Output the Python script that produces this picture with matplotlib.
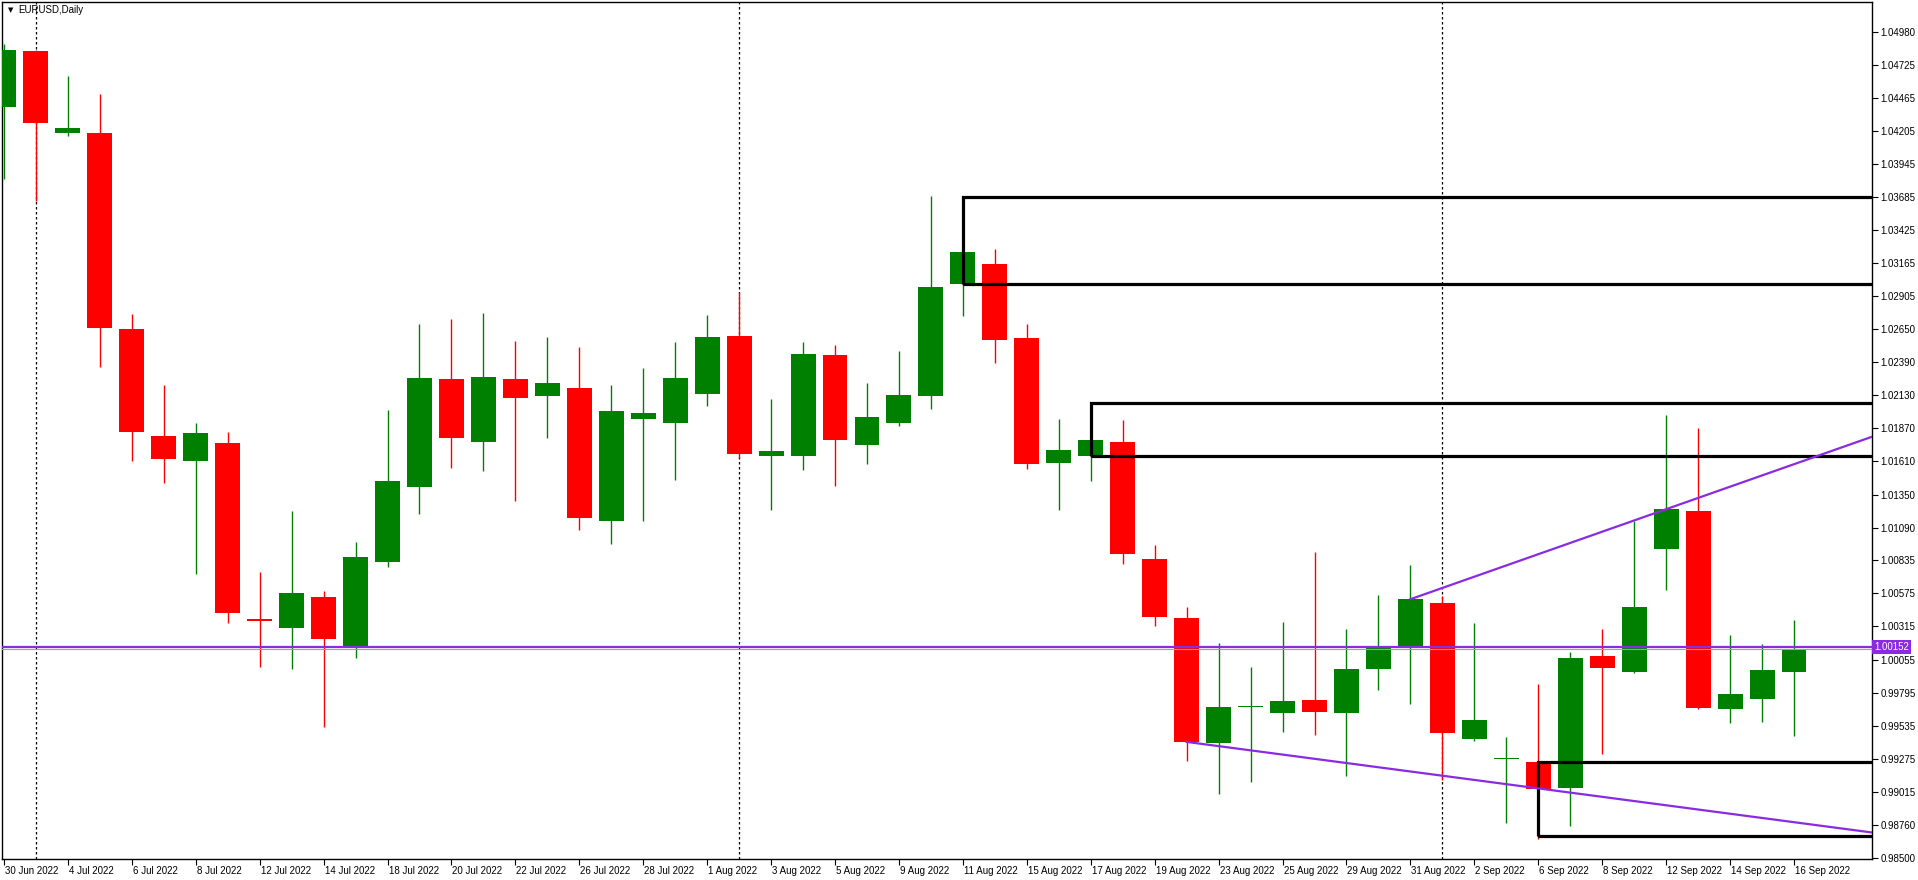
import matplotlib
matplotlib.use("Agg")
import matplotlib.pyplot as plt
from matplotlib.patches import Rectangle
import matplotlib.transforms as mtrans

plt.rcParams['font.family'] = ['Liberation Sans', 'DejaVu Sans']

opens = [1.04389,1.04830,1.04190,1.04186,1.02646,1.01813,1.01614,1.01755,1.00375,1.00300,
         1.00547,1.00158,1.00824,1.01407,1.02258,1.01760,1.02258,1.02121,1.02187,1.01146,
         1.01940,1.01909,1.02139,1.02598,1.01649,1.01649,1.02448,1.01737,1.01909,1.02121,
         1.03003,1.03162,1.02576,1.01596,1.01649,1.01764,1.00846,1.00383,0.99404,0.99682,
         0.99633,0.99739,0.99638,0.99978,1.00150,1.00498,0.99435,0.99276,0.99254,0.99051,
         1.00083,0.99960,1.00921,1.01221,0.99669,0.99744,0.99960]
closes = [1.04838,1.04269,1.04225,1.02659,1.01839,1.01627,1.01835,1.00419,1.00361,1.00577,
          1.00220,1.00860,1.01460,1.02267,1.01795,1.02276,1.02108,1.02223,1.01164,1.02007,
          1.01993,1.02267,1.02589,1.01667,1.01693,1.02457,1.01777,1.01962,1.02135,1.02977,
          1.03251,1.02562,1.01587,1.01702,1.01781,1.00882,1.00392,0.99409,0.99682,0.99691,
          0.99731,0.99647,0.99982,1.00150,1.00529,0.99475,0.99581,0.99285,0.99042,1.00066,
          0.99986,1.00467,1.01239,0.99678,0.99784,0.99973,1.00136]
highs = [1.04887,1.04843,1.04636,1.04494,1.02765,1.02214,1.01914,1.01843,1.00745,1.01221,
         1.00595,1.00979,1.02015,1.02690,1.02730,1.02779,1.02558,1.02584,1.02505,1.02214,
         1.02346,1.02545,1.02761,1.02942,1.02104,1.02545,1.02527,1.02223,1.02479,1.03692,
         1.03687,1.03277,1.02686,1.01945,1.02068,1.01932,1.00957,1.00467,1.00185,0.99995,
         1.00348,1.00899,1.00295,1.00560,1.00798,1.00555,1.00344,0.99448,0.99863,1.00114,
         1.00295,1.01146,1.01976,1.01874,1.00247,1.00176,1.00366]
lows = [1.03828,1.03652,1.04168,1.02351,1.01614,1.01438,1.00723,1.00339,1.00000,0.99978,
        0.99523,1.00070,1.00785,1.01195,1.01557,1.01535,1.01296,1.01795,1.01076,1.00966,
        1.01142,1.01464,1.02042,1.01636,1.01226,1.01543,1.01416,1.01587,1.01887,1.02020,
        1.02752,1.02382,1.01548,1.01226,1.01455,1.00802,1.00322,0.99263,0.99003,0.99095,
        0.99488,0.99466,0.99144,0.99819,0.99708,0.99109,0.99413,0.98773,0.98645,0.98751,
        0.99311,0.99951,1.00599,0.99669,0.99554,0.99563,0.99453]

date_labels = ["30 Jun 2022","4 Jul 2022","6 Jul 2022","8 Jul 2022","12 Jul 2022","14 Jul 2022",
               "18 Jul 2022","20 Jul 2022","22 Jul 2022","26 Jul 2022","28 Jul 2022","1 Aug 2022",
               "3 Aug 2022","5 Aug 2022","9 Aug 2022","11 Aug 2022","15 Aug 2022","17 Aug 2022",
               "19 Aug 2022","23 Aug 2022","25 Aug 2022","29 Aug 2022","31 Aug 2022","2 Sep 2022",
               "6 Sep 2022","8 Sep 2022","12 Sep 2022","14 Sep 2022","16 Sep 2022"]
price_ticks = [1.04980,1.04725,1.04465,1.04205,1.03945,1.03685,1.03425,1.03165,1.02905,1.02650,
               1.02390,1.02130,1.01870,1.01610,1.01350,1.01090,1.00835,1.00575,1.00315,1.00055,
               0.99795,0.99535,0.99275,0.99015,0.98760,0.98500]
month_separators = [1, 23, 45]
zones = [(30, 1.03003, 1.03687), (34, 1.01654, 1.02068), (48, 0.98672, 0.99254)]
trends = [(44, 1.00529, 58.44, 1.01804), (37, 0.99409, 58.44, 0.98698)]
current_price = 1.00152
ask_line = 1.00137

W, H = 1918, 880
fig = plt.figure(figsize=(W/100, H/100), dpi=100)
ax = fig.add_axes([2/W, 1-859/H, 1870/W, 857/H])
xmax = 58.44
ax.set_xlim(-0.06, xmax)
ax.set_ylim(0.98490, 1.05216)

green, red = "#008000", "#ff0000"
bw = 0.78
for i, (o, c, h, l) in enumerate(zip(opens, closes, highs, lows)):
    col = green if c >= o else red
    ax.plot([i, i], [l, h], color=col, lw=1.0, zorder=2, solid_capstyle="butt")
    bot, top = min(o, c), max(o, c)
    hgt = max(top - bot, 0.00004)
    ax.add_patch(Rectangle((i - bw/2, bot), bw, hgt, facecolor=col, edgecolor="none", zorder=3))

for s in month_separators:
    ax.axvline(s, color="black", lw=0.9, ls=(0, (2, 2)), zorder=1)

for s, lo, hi in zones:
    ax.add_patch(Rectangle((s, lo), xmax + 5 - s, hi - lo, fill=False, edgecolor="black",
                           lw=2.3, zorder=4, clip_on=True))

for x1, y1, x2, y2 in trends:
    ax.plot([x1, x2], [y1, y2], color="#8a2be2", lw=1.6, zorder=5)

ax.axhline(current_price, color="#8a2be2", lw=1.6, zorder=5)
ax.axhline(ask_line, color="#a0a0a0", lw=0.8, zorder=5)

ax.yaxis.tick_right()
ax.set_yticks(price_ticks)
ax.set_yticklabels([f"{v:.5f}" for v in price_ticks])
ax.tick_params(axis="y", labelsize=7, length=4, width=0.8, pad=2, direction="out")
ax.set_xticks(list(range(0, 57, 2)))
ax.set_xticklabels(date_labels, ha="left")
ax.tick_params(axis="x", labelsize=7, length=4, width=0.8, pad=1, direction="out")
off = mtrans.ScaledTranslation(1/100, 0, fig.dpi_scale_trans)
for lbl in ax.get_xticklabels():
    lbl.set_transform(lbl.get_transform() + off)

for sp in ax.spines.values():
    sp.set_linewidth(1.0)

ax.text(1.0012, current_price, f"{current_price:.5f}", transform=ax.get_yaxis_transform(),
        ha="left", va="center", fontsize=7, color="white", zorder=10, clip_on=False,
        bbox=dict(boxstyle="square,pad=0.2", facecolor="#8a2be2", edgecolor="none"))

fig.text(8/W, 1-10/H, "\u25BC", fontsize=5, va="center", ha="left", family="DejaVu Sans")
fig.text(18/W, 1-10/H, "EURUSD,Daily", fontsize=7, va="center", ha="left")

fig.savefig("out.png", dpi=100)
